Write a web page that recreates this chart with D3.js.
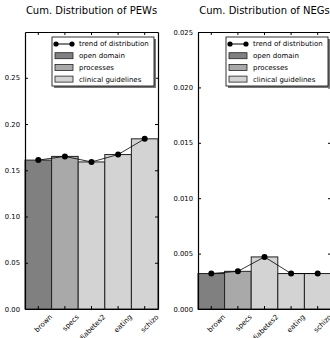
<!DOCTYPE html>
<html>
<head>
<meta charset="utf-8">
<script src="https://cdn.jsdelivr.net/npm/d3@7"></script>
<style>
  body { margin: 0; background: #fff; }
  svg text { font-family: "DejaVu Sans", sans-serif; fill: #000; }
</style>
</head>
<body>
<div id="chart"></div>
<script>
// data
const categories = ["brown", "specs", "diabetes2", "eating", "schizo"];
const pewValues = [0.161, 0.165, 0.159, 0.167, 0.184];
const negValues = [0.0032, 0.0034, 0.0047, 0.0032, 0.0032];
const barColors = ["#808080", "#a9a9a9", "#d3d3d3", "#d3d3d3", "#d3d3d3"];
const pewTicks = [0.00, 0.05, 0.10, 0.15, 0.20, 0.25];
const negTicks = [0.000, 0.005, 0.010, 0.015, 0.020, 0.025];
const legendItems = [
    {label: "open domain", color: "#808080"},
    {label: "processes", color: "#a9a9a9"},
    {label: "clinical guidelines", color: "#d3d3d3"}
];

const svg = d3.select("#chart").append("svg")
    .attr("width", 330)
    .attr("height", 338);

function drawPanel(cfg) {
    const g = svg.append("g")
        .attr("transform", `translate(${cfg.left},${cfg.top})`);
    const w = cfg.width, h = cfg.height;

    const x = d3.scaleBand().domain(categories).range([0, w]).padding(0);
    const y = d3.scaleLinear().domain([0, cfg.ymax]).range([h, 0]);

    // bars
    g.selectAll(".bar")
        .data(cfg.values)
        .enter()
        .append("rect")
        .attr("class", "bar")
        .attr("x", (d, i) => x(categories[i]))
        .attr("y", d => y(d))
        .attr("width", x.bandwidth())
        .attr("height", d => h - y(d))
        .attr("fill", (d, i) => barColors[i])
        .attr("stroke", "#222")
        .attr("stroke-width", 1);

    // trend line
    const line = d3.line()
        .x((d, i) => x(categories[i]) + x.bandwidth() / 2)
        .y(d => y(d));
    g.append("path")
        .datum(cfg.values)
        .attr("d", line)
        .attr("fill", "none")
        .attr("stroke", "#000")
        .attr("stroke-width", 0.8);
    g.selectAll(".dot")
        .data(cfg.values)
        .enter()
        .append("circle")
        .attr("cx", (d, i) => x(categories[i]) + x.bandwidth() / 2)
        .attr("cy", d => y(d))
        .attr("r", 3)
        .attr("fill", "#000");

    // axes with inward ticks
    const fmt = d3.format(cfg.fmt);
    const left = g.append("g")
        .call(d3.axisLeft(y).tickValues(cfg.ticks).tickFormat(fmt).tickSizeInner(-3).tickSizeOuter(0).tickPadding(5));
    const right = g.append("g").attr("transform", `translate(${w},0)`)
        .call(d3.axisRight(y).tickValues(cfg.ticks).tickFormat("").tickSizeInner(-3).tickSizeOuter(0));
    const bottom = g.append("g").attr("transform", `translate(0,${h})`)
        .call(d3.axisBottom(x).tickSizeInner(-3).tickSizeOuter(0).tickPadding(4));
    const topAx = g.append("g")
        .call(d3.axisTop(x).tickFormat("").tickSizeInner(-3).tickSizeOuter(0));

    [left, right, bottom, topAx].forEach(a => {
        a.select(".domain").attr("stroke", "#000").attr("stroke-width", 1.2);
        a.selectAll(".tick line").attr("stroke", "#000").attr("stroke-width", 1);
    });
    left.selectAll("text").attr("font-size", 6.8).attr("fill", "#000");
    bottom.selectAll("text")
        .attr("font-size", 7)
        .attr("fill", "#000")
        .attr("text-anchor", "end")
        .attr("transform", "translate(8,2) rotate(-45)");

    // title
    g.append("text")
        .attr("x", w / 2)
        .attr("y", -18)
        .attr("text-anchor", "middle")
        .attr("font-size", 10)
        .text(cfg.title);

    // legend
    const lg = g.append("g").attr("transform", `translate(${cfg.legendX},5)`);
    const lw = 102, lh = 49;
    lg.append("rect").attr("x", 2).attr("y", 2).attr("width", lw).attr("height", lh).attr("fill", "#777");
    lg.append("rect").attr("width", lw).attr("height", lh).attr("fill", "#fff")
        .attr("stroke", "#000").attr("stroke-width", 0.8);
    const row0 = 7;
    lg.append("line").attr("x1", 4).attr("x2", 20).attr("y1", row0).attr("y2", row0)
        .attr("stroke", "#000").attr("stroke-width", 1);
    lg.selectAll(".ldot").data([4, 20]).enter().append("circle")
        .attr("cx", d => d).attr("cy", row0).attr("r", 2.6).attr("fill", "#000");
    lg.append("text").attr("x", 27).attr("y", row0 + 2.4).attr("font-size", 7).text("trend of distribution");
    legendItems.forEach((it, i) => {
        const yy = row0 + 11.7 * (i + 1);
        lg.append("rect").attr("x", 3).attr("y", yy - 3).attr("width", 18).attr("height", 6)
            .attr("fill", it.color).attr("stroke", "#222").attr("stroke-width", 0.8);
        lg.append("text").attr("x", 27).attr("y", yy + 2.4).attr("font-size", 7).text(it.label);
    });
}

drawPanel({left: 25, top: 32, width: 133, height: 277, ymax: 0.2995, values: pewValues,
    ticks: pewTicks, fmt: ".2f", title: "Cum. Distribution of PEWs", legendX: 27});
drawPanel({left: 198, top: 32, width: 133, height: 277, ymax: 0.025, values: negValues,
    ticks: negTicks, fmt: ".3f", title: "Cum. Distribution of NEGs", legendX: 28});
</script>
</body>
</html>
